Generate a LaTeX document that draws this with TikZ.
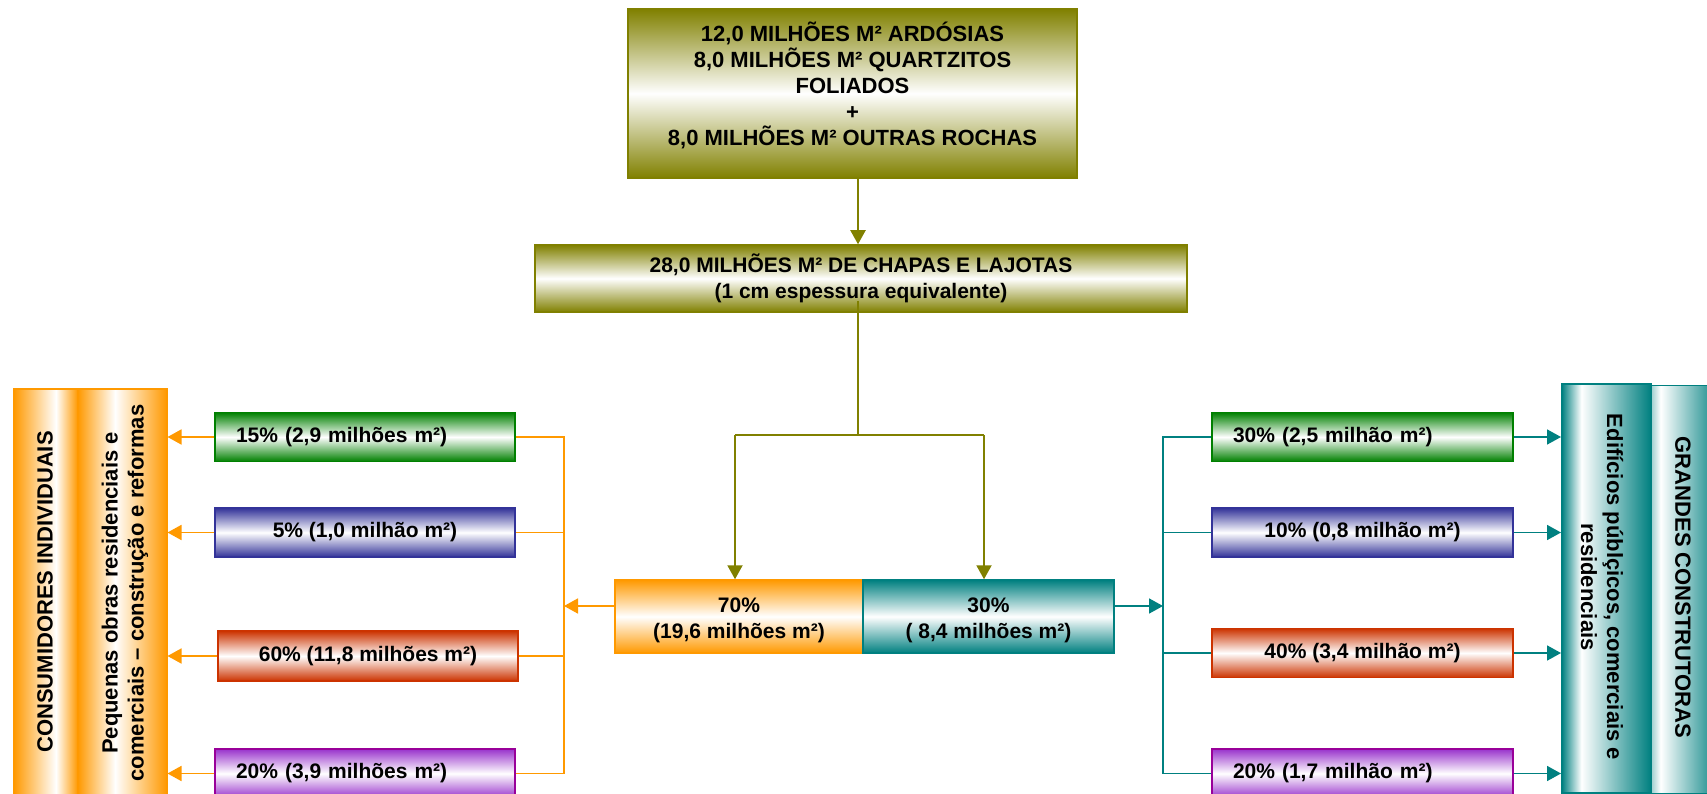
\documentclass[tikz,border=0pt]{standalone}
\usepackage{fontspec}
\setmainfont{Liberation Sans}
\usetikzlibrary{arrows.meta}

\definecolor{oliv}{RGB}{128,128,0}
\definecolor{grn}{RGB}{0,128,0}
\definecolor{blu}{RGB}{51,51,153}
\definecolor{rd}{RGB}{204,51,0}
\definecolor{prp}{RGB}{153,0,153}
\definecolor{prpf}{RGB}{153,51,204}
\definecolor{orng}{RGB}{255,153,0}
\definecolor{tl}{RGB}{0,128,128}

% side-to-side shadings for the tall column boxes
\pgfdeclarehorizontalshading{orA}{100bp}{color(0bp)=(orng); color(25bp)=(orng); color(58bp)=(white); color(75bp)=(orng); color(100bp)=(orng)}
\pgfdeclarehorizontalshading{orB}{100bp}{color(0bp)=(orng); color(25bp)=(orng); color(46bp)=(white); color(75bp)=(orng); color(100bp)=(orng)}
\pgfdeclarehorizontalshading{tlC}{100bp}{color(0bp)=(tl); color(25bp)=(tl); color(36bp)=(white); color(75bp)=(tl); color(100bp)=(tl)}
\pgfdeclarehorizontalshading{tlD}{100bp}{color(0bp)=(tl); color(25bp)=(tl!40); color(32bp)=(white); color(75bp)=(tl); color(100bp)=(tl)}

\tikzset{
  txt/.style={font=\bfseries\fontsize{21}{26}\selectfont, align=center, inner sep=0pt},
  bigtxt/.style={txt, font=\bfseries\fontsize{22}{26}\selectfont},
  bx/.style={txt, draw=#1, line width=1.5pt, top color=#1, bottom color=#1, middle color=white},
  pbox/.style={txt, draw=prp, line width=1.5pt, top color=prpf, bottom color=prpf, middle color=white},
  col/.style={draw=#1, line width=1.5pt, inner sep=0pt, anchor=north west},
  ln/.style={line width=1.7pt},
  arr/.style={ln, -{Triangle[length=14pt,width=15pt]}},
}

\begin{document}
\begin{tikzpicture}[x=1pt,y=-1pt]
\useasboundingbox (0,0) rectangle (1707,794);
\fill[white] (0,0) rectangle (1707,794);
\clip (0,0) rectangle (1707,794);

% source and total
\node[bx=oliv, minimum width=449pt, minimum height=169pt] (src) at (852.5,93.5) {};
\node[bigtxt] (srctxt) at ([yshift=8pt]src.center)
  {12,0 MILHÕES M² ARDÓSIAS\\8,0 MILHÕES M² QUARTZITOS\\FOLIADOS\\+\\8,0 MILHÕES M² OUTRAS ROCHAS};
\node[bx=oliv, minimum width=652pt, minimum height=67pt] (tot) at (861,278.5)
  {28,0 MILHÕES M² DE CHAPAS E LAJOTAS\\(1 cm espessura equivalente)};

% split 70 / 30
\node[bx=orng, minimum width=248pt, minimum height=73pt] (o70) at (739,616.5)
  {\rule{0pt}{22pt}70\%\\(19,6 milhões m²)};
\node[bx=tl, minimum width=251pt, minimum height=73pt] (t30) at (988.5,616.5)
  {\rule{0pt}{22pt}30\%\\( 8,4 milhões m²)};

% left branch boxes
\node[bx=grn, minimum width=300pt, minimum height=49pt, text width=258pt, align=left] (l15) at (365,437)
  {15\% (2,9 milhões m²)};
\node[bx=blu, minimum width=300pt, minimum height=49pt] (l5) at (365,532.5)
  {5\% (1,0 milhão m²)};
\node[bx=rd, minimum width=300pt, minimum height=50pt] (l60) at (368,656)
  {60\% (11,8 milhões m²)};
\node[pbox, minimum width=300pt, minimum height=49pt, text width=258pt, align=left] (l20) at (365,773.5)
  {20\% (3,9 milhões m²)};

% right branch boxes
\node[bx=grn, minimum width=301pt, minimum height=49pt, text width=259pt, align=left] (r30) at (1362.5,437)
  {30\% (2,5 milhão m²)};
\node[bx=blu, minimum width=301pt, minimum height=49pt] (r10) at (1362.5,532.5)
  {10\% (0,8 milhão m²)};
\node[bx=rd, minimum width=301pt, minimum height=49pt] (r40) at (1362.5,653)
  {40\% (3,4 milhão m²)};
\node[pbox, minimum width=301pt, minimum height=49pt, text width=259pt, align=left] (r20) at (1362.5,773.5)
  {20\% (1,7 milhão m²)};

% tall columns on the left
\node[col=orng, shading=orA, minimum width=64pt, minimum height=420pt] (cA) at (13,388) {};
\node[col=orng, shading=orB, minimum width=89pt, minimum height=420pt] (cB) at (77,388) {};
\node[bigtxt, rotate=90] (cAtxt) at (45,592) {CONSUMIDORES INDIVIDUAIS};
\node[bigtxt, rotate=90] (cBtxt) at (125,593)
  {Pequenas obras residenciais e\\comerciais – construção e reformas};

% tall columns on the right
\node[col=tl, shading=tlD, minimum width=70pt, minimum height=408pt] (cD) at (1650,384.5) {};
\node[col=tl, shading=tlC, minimum width=89pt, minimum height=409pt] (cC) at (1561,383) {};
\node[bigtxt, rotate=-90] (cCtxt) at (1602,587)
  {Edifícios públçicos, comerciais e\\residenciais};
\node[bigtxt, rotate=-90] (cDtxt) at (1683,587.5) {GRANDES CONSTRUTORAS};

% olive connectors
\coordinate (trunk) at (858,435);
\coordinate (sl) at (735,435);
\coordinate (sr) at (984,435);
\draw[arr, oliv, line width=2pt] (src.south -| trunk) -- (tot.north -| trunk);
\draw[ln, oliv, line width=2pt] ([yshift=12pt]tot.south -| trunk) -- (trunk);
\draw[ln, oliv, line width=2pt] (sl) -- (sr);
\draw[arr, oliv, line width=2pt] (sl) -- (sl |- o70.north);
\draw[arr, oliv, line width=2pt] (sr) -- (sr |- t30.north);

% orange connectors
\coordinate (obus) at (564,606);
\draw[arr, orng] (o70.west |- obus) -- (obus);
\draw[ln, orng] (l15.east) -| (obus |- l20.east) -- (l20.east);
\draw[ln, orng] (l5.east) -- (l5.east -| obus);
\draw[ln, orng] (l60.east) -- (l60.east -| obus);
\foreach \b in {l15,l5,l60,l20}
  \draw[arr, orng] (\b.west) -- (\b.west -| cB.east);

% teal connectors
\coordinate (tbus) at (1163,606);
\draw[arr, tl] (t30.east |- tbus) -- (tbus);
\draw[ln, tl] (r30.west) -| (tbus |- r20.west) -- (r20.west);
\draw[ln, tl] (r10.west) -- (r10.west -| tbus);
\draw[ln, tl] (r40.west) -- (r40.west -| tbus);
\foreach \b in {r30,r10,r40,r20}
  \draw[arr, tl] (\b.east) -- (\b.east -| cC.west);
\end{tikzpicture}
\end{document}
